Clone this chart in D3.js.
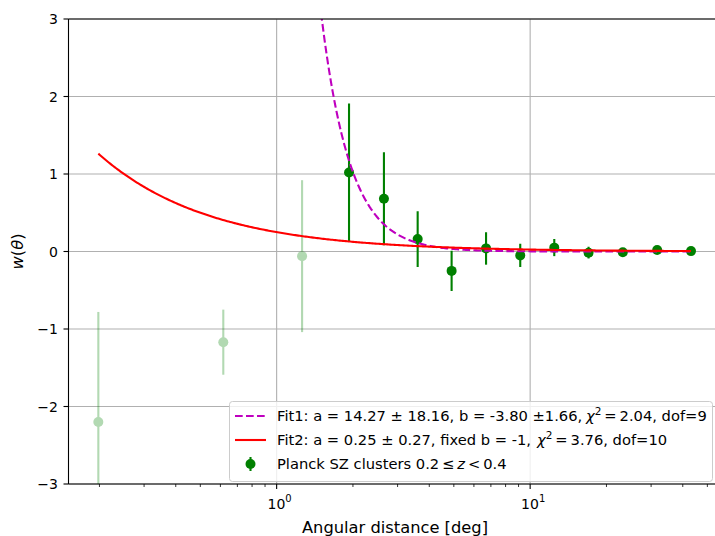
<!DOCTYPE html>
<html><head><meta charset="utf-8">
<script src="https://cdn.jsdelivr.net/npm/d3@7"></script>
<style>body{margin:0;background:#fff}svg{display:block}text{font-family:"DejaVu Sans",sans-serif;fill:#000}</style>
</head><body><svg id="c" width="715" height="536"></svg>
<script>
// data
const xLight = [0.198, 0.616, 1.26];
const yLight = [-2.20, -1.17, -0.06];
const eLight = [1.42, 0.42, 0.98];
const xDark = [1.93, 2.65, 3.60, 4.90, 6.70, 9.14, 12.45, 17.0, 23.2, 31.7, 43.1];
const yDark = [1.02, 0.68, 0.16, -0.25, 0.04, -0.05, 0.05, -0.015, -0.01, 0.02, 0.005];
const eDark = [0.89, 0.60, 0.36, 0.26, 0.21, 0.15, 0.11, 0.075, 0.04, 0.03, 0.03];
const fitA = [14.27, 0.25];
const fitB = [-3.80, -1];
const yTicks = [-3, -2, -1, 0, 1, 2, 3];
const xMajor = [1, 10];
const legendLabels = [
  "Fit1: a = 14.27 ± 18.16, b = -3.80 ±1.66,",
  "Fit2: a = 0.25 ± 0.27, fixed b = -1,",
  "Planck SZ clusters 0.2"
];
const chiValues = ["2.04, dof=9", "3.76, dof=10"];

const svg = d3.select("#c");
const L = 68.5, R = 715, T = 19, B = 484;
const x = d3.scaleLog().domain([0.151, 53.6]).range([L, R]);
const y = d3.scaleLinear().domain([-3, 3]).range([B, T]);

svg.append("defs").append("clipPath").attr("id","clip")
  .append("rect").attr("x",L).attr("y",T).attr("width",R-L).attr("height",B-T);

// grid
const g = svg.append("g");
g.selectAll(".hg").data(yTicks).join("line")
  .attr("x1",L).attr("x2",R).attr("y1",d=>y(d)).attr("y2",d=>y(d))
  .attr("stroke","#b0b0b0").attr("stroke-width",1.1);
g.selectAll(".vg").data(xMajor).join("line")
  .attr("y1",T).attr("y2",B).attr("x1",d=>x(d)).attr("x2",d=>x(d))
  .attr("stroke","#b0b0b0").attr("stroke-width",1.1);

const plot = svg.append("g").attr("clip-path","url(#clip)");

const light = xLight.map((d,i)=>({x:d,y:yLight[i],e:eLight[i]}));
const dark = xDark.map((d,i)=>({x:d,y:yDark[i],e:eDark[i]}));
function drawPts(data, op){
  const gg = plot.append("g").attr("opacity",op);
  gg.selectAll("line").data(data).join("line")
    .attr("x1",d=>x(d.x)).attr("x2",d=>x(d.x))
    .attr("y1",d=>y(d.y-d.e)).attr("y2",d=>y(d.y+d.e))
    .attr("stroke","#008000").attr("stroke-width",2.1);
  gg.selectAll("circle").data(data).join("circle")
    .attr("cx",d=>x(d.x)).attr("cy",d=>y(d.y)).attr("r",5)
    .attr("fill","#008000");
}
drawPts(light, 0.3);
drawPts(dark, 1);

// fit curves (model a*x^b evaluated from the legend parameters)
const x0 = xLight[0], x1 = xDark[xDark.length-1];
const xs = d3.range(0, 401).map(i => Math.pow(10, Math.log10(x0) + i/400*(Math.log10(x1)-Math.log10(x0))));
const line = d3.line().x(d=>x(d[0])).y(d=>y(Math.min(d[1], 10)));
plot.append("path").datum(xs.map(v=>[v, fitA[0]*Math.pow(v,fitB[0])]))
  .attr("d",line).attr("fill","none").attr("stroke","#bf00bf").attr("stroke-width",2.1)
  .attr("stroke-dasharray","7.7,3.3");
plot.append("path").datum(xs.map(v=>[v, fitA[1]*Math.pow(v,fitB[1])]))
  .attr("d",line).attr("fill","none").attr("stroke","#ff0000").attr("stroke-width",2.1);

// spines
svg.append("line").attr("x1",L).attr("x2",R).attr("y1",T).attr("y2",T).attr("stroke","#000").attr("stroke-width",1.1);
svg.append("line").attr("x1",L).attr("x2",R).attr("y1",B).attr("y2",B).attr("stroke","#000").attr("stroke-width",1.1);
svg.append("line").attr("x1",L).attr("x2",L).attr("y1",T).attr("y2",B).attr("stroke","#000").attr("stroke-width",1.1);

// y axis ticks
svg.selectAll(".yt").data(yTicks).join("line")
  .attr("x1",L-5).attr("x2",L).attr("y1",d=>y(d)).attr("y2",d=>y(d)).attr("stroke","#000").attr("stroke-width",1.1);
svg.selectAll(".yl").data(yTicks).join("text")
  .attr("x",L-10.5).attr("y",d=>y(d)).attr("dy","0.36em").attr("text-anchor","end")
  .attr("font-size",14).text(d=>d<0?"\u2212"+Math.abs(d):d);

// x axis ticks (log)
const minor = [];
[0.1,1,10].forEach(dec=>{for(let k=2;k<=9;k++){const v=dec*k; if(v>=0.151&&v<=53.6) minor.push(v);}});
svg.selectAll(".xm").data(minor).join("line")
  .attr("x1",d=>x(d)).attr("x2",d=>x(d)).attr("y1",B).attr("y2",B+3).attr("stroke","#000").attr("stroke-width",0.8);
svg.selectAll(".xM").data(xMajor).join("line")
  .attr("x1",d=>x(d)).attr("x2",d=>x(d)).attr("y1",B).attr("y2",B+5).attr("stroke","#000").attr("stroke-width",1.1);
const xl = svg.selectAll(".xl").data(xMajor).join("text")
  .attr("x",d=>x(d)+3).attr("y",508.5).attr("text-anchor","middle").attr("font-size",14);
xl.append("tspan").text("10");
xl.append("tspan").attr("dy",-6.5).attr("font-size",10).text(d=>Math.round(Math.log10(d)));

// axis labels
svg.append("text").attr("x",395).attr("y",532.5).attr("text-anchor","middle").attr("font-size",16.3).text("Angular distance [deg]");
const yl = svg.append("text").attr("transform",`translate(23,${y(0)}) rotate(-90)`).attr("text-anchor","middle").attr("font-size",16.3);
yl.append("tspan").attr("font-style","italic").text("w");
yl.append("tspan").text("(");
yl.append("tspan").attr("font-style","italic").text("θ");
yl.append("tspan").text(")");

// legend
const lg = svg.append("g");
lg.append("rect").attr("x",229.5).attr("y",401.5).attr("width",483).attr("height",80).attr("rx",3)
  .attr("fill","#fff").attr("fill-opacity",0.8).attr("stroke","#cccccc").attr("stroke-width",1);
const rows = [416, 440, 464];
lg.append("line").attr("x1",235).attr("x2",266).attr("y1",rows[0]).attr("y2",rows[0])
  .attr("stroke","#bf00bf").attr("stroke-width",2.1).attr("stroke-dasharray","7.7,3.3");
lg.append("line").attr("x1",235).attr("x2",266).attr("y1",rows[1]).attr("y2",rows[1])
  .attr("stroke","#ff0000").attr("stroke-width",2.1);
lg.append("line").attr("x1",250.5).attr("x2",250.5).attr("y1",rows[2]-7).attr("y2",rows[2]+7)
  .attr("stroke","#008000").attr("stroke-width",2.1);
lg.append("circle").attr("cx",250.5).attr("cy",rows[2]).attr("r",5).attr("fill","#008000");

const LF = 14.7;
const chiX = [586, 537];
[0,1].forEach(i=>{
  const t = lg.append("text").attr("x",277).attr("y",rows[i]).attr("dy","0.36em").attr("font-size",LF);
  t.append("tspan").text(legendLabels[i]);
  t.append("tspan").attr("x",chiX[i]).attr("font-style","italic").text("χ");
  t.append("tspan").attr("dy",-6).attr("font-size",10.5).text("2");
  t.append("tspan").attr("dy",6).text("\u2009=\u2009" + chiValues[i]);
});
const t3 = lg.append("text").attr("x",277).attr("y",rows[2]).attr("dy","0.36em").attr("font-size",LF);
t3.append("tspan").text(legendLabels[2]+"\u2009≤\u2009");
t3.append("tspan").attr("font-style","italic").text("z");
t3.append("tspan").text("\u2009<\u20090.4");
</script></body></html>
